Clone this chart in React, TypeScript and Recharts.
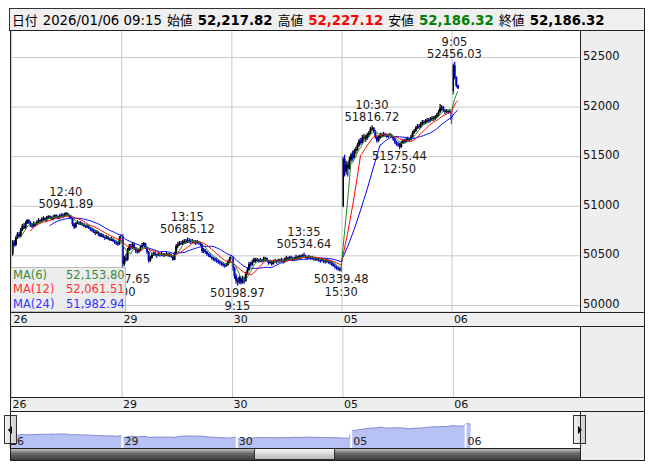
import React from 'react';
import {
  ComposedChart, AreaChart, Area, Bar, Line, XAxis, YAxis, CartesianGrid,
  ReferenceLine, ReferenceDot,
} from 'recharts';

// ---------------- data ----------------
const dayLabels = ['26', '29', '30', '05', '06'];
const dayOpens = [50520, 50700, 50480, 51000, 52160];

const d26Close = [50640,50610,50680,50720,50700,50760,50800,50780,50830,50860,
  50840,50810,50800,50830,50820,50840,50860,50850,50870,50880,
  50860,50880,50900,50890,50870,50890,50910,50900,50880,50900,
  50910,50900,50920,50930,50910,50900,50880,50820,50790,50830,
  50840,50820,50830,50810,50800,50790,50800,50780,50770,50760,
  50740,50730,50740,50720,50700,50710,50690,50680,50690,50670,
  50660,50670,50650,50640,50630,50620,50680,50700];
const d26High = [50660,50660,50700,50740,50740,50780,50820,50830,50850,50870,
  50870,50850,50830,50850,50840,50860,50880,50870,50890,50900,
  50890,50900,50910,50910,50900,50910,50920,50920,50910,50920,
  50930,50930,50935,50941.89,50935,50920,50910,50880,50830,50840,
  50860,50850,50850,50840,50830,50810,50820,50810,50790,50780,
  50770,50760,50760,50750,50730,50730,50720,50700,50710,50700,
  50680,50690,50680,50660,50650,50640,50700,50720];
const d26Low = [50500,50590,50600,50670,50680,50690,50750,50770,50770,50820,
  50820,50790,50780,50790,50800,50810,50830,50830,50840,50850,
  50850,50850,50870,50870,50860,50860,50880,50880,50870,50870,
  50890,50880,50890,50900,50900,50880,50870,50800,50770,50780,
  50820,50810,50810,50800,50790,50780,50780,50770,50750,50740,
  50730,50710,50720,50700,50690,50690,50680,50660,50670,50660,
  50650,50650,50640,50620,50610,50600,50610,50670];

const d29Close = [50420,50480,50460,50560,50600,50580,50620,50580,50560,50540,
  50560,50590,50610,50630,50580,50540,50450,50480,50510,50530,
  50510,50500,50520,50510,50520,50500,50510,50520,50500,50510,
  50490,50460,50520,50600,50610,50630,50620,50640,50650,50640,
  50660,50650,50640,50650,50640,50630,50640,50630,50620,50550,
  50560,50540,50520,50510,50490,50480,50470,50460,50450,50440,
  50430,50420,50410,50400,50410,50440,50470,50490];
const d29High = [50720,50500,50520,50580,50620,50620,50640,50630,50590,50570,
  50580,50600,50630,50640,50630,50590,50550,50500,50530,50540,
  50540,50520,50540,50530,50540,50530,50530,50540,50530,50530,
  50520,50500,50540,50620,50640,50650,50650,50660,50670,50670,
  50685.12,50680,50670,50670,50660,50660,50660,50650,50640,50620,
  50580,50570,50550,50530,50520,50500,50490,50480,50480,50460,
  50450,50440,50430,50420,50430,50460,50490,50510];
const d29Low = [50337.65,50400,50440,50450,50550,50560,50570,50560,50530,50520,
  50530,50550,50580,50600,50570,50520,50430,50440,50470,50500,
  50500,50480,50500,50490,50500,50490,50490,50500,50490,50490,
  50480,50450,50460,50510,50580,50600,50610,50610,50620,50620,
  50630,50630,50620,50630,50620,50610,50620,50610,50600,50530,
  50530,50520,50500,50490,50480,50460,50450,50440,50430,50420,
  50410,50400,50390,50380,50390,50400,50430,50460];

const d30Close = [50380,50300,50250,50240,50280,50230,50270,50250,50320,50360,
  50420,50410,50440,50470,50450,50460,50440,50460,50450,50470,
  50480,50450,50430,50440,50420,50440,50450,50440,50460,50450,
  50460,50440,50460,50480,50470,50490,50480,50460,50470,50490,
  50480,50500,50490,50510,50500,50490,50480,50490,50470,50480,
  50470,50460,50470,50460,50450,50460,50450,50440,50450,50440,
  50430,50420,50400,50390,50380,50370,50360,50370];
const d30High = [50500,50390,50320,50280,50300,50290,50300,50290,50340,50380,
  50440,50440,50460,50480,50480,50480,50470,50480,50470,50490,
  50490,50480,50460,50460,50450,50460,50470,50460,50470,50470,
  50480,50470,50480,50500,50490,50500,50500,50490,50490,50510,
  50500,50510,50510,50520,50534.64,50510,50500,50510,50500,50500,
  50490,50490,50480,50480,50470,50480,50470,50460,50470,50460,
  50450,50450,50430,50420,50400,50390,50380,50390];
const d30Low = [50350,50270,50220,50198.97,50220,50210,50220,50220,50240,50310,
  50350,50390,50400,50430,50430,50440,50430,50440,50430,50440,
  50450,50440,50410,50420,50400,50410,50430,50420,50430,50430,
  50440,50420,50430,50450,50450,50460,50460,50450,50450,50460,
  50460,50470,50470,50480,50490,50470,50460,50470,50460,50460,
  50450,50450,50450,50440,50430,50440,50430,50420,50430,50420,
  50410,50400,50390,50370,50360,50350,50345,50339.48];

const d05Close = [51480,51350,51420,51380,51470,51520,51490,51560,51580,51620,
  51660,51640,51690,51700,51680,51720,51740,51780,51790,51760,
  51700,51660,51690,51720,51710,51730,51720,51700,51710,51720,
  51710,51680,51650,51630,51620,51600,51640,51660,51650,51670,
  51680,51670,51700,51740,51760,51790,51810,51800,51830,51850,
  51840,51860,51870,51860,51880,51890,51880,51900,51920,51950,
  51990,52000,51970,51950,51960,51950,51960,51870];
const d05High = [51500,51520,51460,51450,51500,51540,51560,51580,51600,51640,
  51680,51690,51720,51730,51720,51740,51760,51800,51816.72,51800,
  51770,51710,51710,51740,51740,51750,51740,51730,51730,51740,
  51730,51710,51690,51660,51650,51640,51660,51680,51680,51690,
  51700,51690,51720,51760,51780,51810,51830,51830,51850,51870,
  51870,51880,51890,51890,51900,51910,51910,51920,51940,51970,
  52030,52020,52010,51980,51980,51970,51980,51960];
const d05Low = [50990,51300,51320,51300,51370,51450,51460,51480,51530,51560,
  51600,51620,51630,51660,51650,51670,51700,51730,51760,51740,
  51680,51640,51650,51680,51690,51700,51700,51690,51690,51700,
  51690,51660,51630,51610,51600,51575.44,51590,51630,51640,51650,
  51660,51650,51660,51690,51730,51750,51780,51780,51790,51820,
  51820,51830,51840,51840,51850,51860,51860,51870,51890,51910,
  51940,51960,51950,51930,51940,51930,51940,51830];

const d06Close = [52420, 52300, 52217.82, 52186.32];
const d06High = [52440, 52456.03, 52310, 52227.12];
const d06Low = [52130, 52280, 52200, 52186.32];

const priceTicks = [50000, 50500, 51000, 51500, 52000, 52500];

const notes = [
  { day: 0, bar: 33, price: 50941.89, time: '12:40', kind: 'high' },
  { day: 1, bar: 0, price: 50337.65, time: '9:00', kind: 'low' },
  { day: 1, bar: 40, price: 50685.12, time: '13:15', kind: 'high' },
  { day: 2, bar: 3, price: 50198.97, time: '9:15', kind: 'low' },
  { day: 2, bar: 44, price: 50534.64, time: '13:35', kind: 'high' },
  { day: 2, bar: 67, price: 50339.48, time: '15:30', kind: 'low' },
  { day: 3, bar: 18, price: 51816.72, time: '10:30', kind: 'high' },
  { day: 3, bar: 35, price: 51575.44, time: '12:50', kind: 'low' },
  { day: 4, bar: 1, price: 52456.03, time: '9:05', kind: 'high' },
];

const legendItems = [
  { name: 'MA(6)', value: '52,153.80', color: '#3a8a3a' },
  { name: 'MA(12)', value: '52,061.51', color: '#ff3030' },
  { name: 'MA(24)', value: '51,982.94', color: '#3535ff' },
];

// ---------------- build rows ----------------
const days = [
  { open: dayOpens[0], close: d26Close, high: d26High, low: d26Low },
  { open: dayOpens[1], close: d29Close, high: d29High, low: d29Low },
  { open: dayOpens[2], close: d30Close, high: d30High, low: d30Low },
  { open: dayOpens[3], close: d05Close, high: d05High, low: d05Low },
  { open: dayOpens[4], close: d06Close, high: d06High, low: d06Low },
];
const BARS_PER_DAY = 68;
const LEAD = 1;
const SLOTS = 352;
const NAV_LEAD = 0;
const NAV_SLOTS = 341;

type Bar = { open: number; high: number; low: number; close: number };
const bars: Bar[] = [];
days.forEach((d) => d.close.forEach((c, i) => {
  bars.push({ open: i === 0 ? d.open : d.close[i - 1], high: d.high[i], low: d.low[i], close: c });
}));
const closes = bars.map((b) => b.close);
const ma = (n: number, k: number) => (k < n - 1 ? undefined : closes.slice(k - n + 1, k + 1).reduce((a, b) => a + b, 0) / n);

const rows: any[] = [];
for (let s = 0; s < SLOTS; s++) {
  const k = s - LEAD;
  const b = k >= 0 ? bars[k] : undefined;
  if (b) rows.push({ idx: s, ...b, range: [b.low, b.high], ma6: ma(6, k), ma12: ma(12, k), ma24: ma(24, k) });
  else rows.push({ idx: s });
}
const navRows: any[] = [];
for (let s = 0; s < NAV_SLOTS; s++) {
  const k = s - NAV_LEAD;
  const b = k >= 0 ? bars[k] : undefined;
  navRows.push(b ? { idx: s, close: b.close } : { idx: s });
}
const dayStarts = dayLabels.map((_, d) => LEAD + d * BARS_PER_DAY);
const navDayStarts = dayLabels.map((_, d) => NAV_LEAD + d * BARS_PER_DAY);
const labelOf: Record<number, string> = {};
dayStarts.forEach((s, d) => { labelOf[s] = dayLabels[d]; });

// ---------------- components ----------------
const FONT = "'DejaVu Sans', 'Noto Sans CJK JP', sans-serif";

const Candle = (p: any) => {
  const { x, y, width, height, payload } = p;
  if (!payload || payload.open == null || y == null || isNaN(y)) return <g />;
  const { open, close, high, low } = payload;
  const cx = x + width / 2;
  const k = high === low ? 0 : height / (high - low);
  const yO = y + (high - open) * k;
  const yC = y + (high - close) * k;
  const up = close >= open;
  const color = up ? '#000000' : '#0000c0';
  const top = Math.min(yO, yC);
  const bh = Math.max(Math.abs(yC - yO), 1);
  return (
    <g>
      <line x1={cx} x2={cx} y1={y} y2={y + height} stroke={color} strokeWidth={1.2} />
      <rect x={cx - 1} y={top} width={2} height={bh} fill={color} />
    </g>
  );
};

const DateTick = (p: any) => {
  const { x, y, payload } = p;
  return (
    <text x={x + 1} y={y + 7.5} fontSize={11} fontFamily={FONT} fill="#111" dominantBaseline="central">
      {labelOf[payload.value]}
    </text>
  );
};

const PriceTick = (p: any) => {
  const { x, y, payload } = p;
  return (
    <text x={x + 3} y={y - 1.5} fontSize={11.5} fontFamily={FONT} fill="#111" dominantBaseline="central">
      {payload.value}
    </text>
  );
};

const NoteMark = (p: any) => {
  const { cx, cy, note } = p;
  const high = note.kind === 'high';
  const priceTxt = note.price.toFixed(2);
  const a = high ? note.time : priceTxt;
  const b = high ? priceTxt : note.time;
  const ya = high ? cy - 20 : cy + 7;
  const yb = high ? cy - 8 : cy + 20;
  const st = { fontSize: 11.5, fontFamily: FONT, fill: '#1a1a1a' } as any;
  return (
    <g>
      <text x={cx} y={ya} textAnchor="middle" dominantBaseline="central" {...st}>{a}</text>
      <text x={cx} y={yb} textAnchor="middle" dominantBaseline="central" {...st}>{b}</text>
    </g>
  );
};

const NavLabel = (p: any) => {
  const vb = p.viewBox || {};
  return (
    <text x={vb.x + 2} y={vb.y + vb.height - 7} fontSize={11} fontFamily={FONT} fill="#222" dominantBaseline="central">
      {p.text}
    </text>
  );
};

const Rect = ({ l, t, w, h, bg, z = 0, extra = {} }: any) => (
  <div style={{ position: 'absolute', left: l, top: t, width: w, height: h, background: bg, zIndex: z, ...extra }} />
);

const R = 644; // right edge

export default function App() {
  const hLines = [
    [9, R, 30], [10, R, 312], [10, R, 326], [10, R, 397], [10, R, 411], [10, 580, 448], [10, R, 460],
  ];
  const vLines = [
    [10, 30, 461], [580, 30, 312], [580, 326, 397], [580, 411, 461], [R, 8, 461],
  ];
  const val = { fontSize: 13.3 } as any;
  const lab = { fontSize: 12.8 } as any;
  return (
    <div style={{ position: 'absolute', left: 0, top: 0, width: 653, height: 470, background: '#fff', fontFamily: FONT, overflow: 'hidden' }}>
      {/* backgrounds */}
      <Rect l={10} t={30} w={570} h={282} bg="#fff" />
      <Rect l={580} t={30} w={R - 580} h={282} bg="#eeeeee" />
      <Rect l={10} t={312} w={R - 10} h={14} bg="#eeeeee" />
      <Rect l={580} t={326} w={R - 580} h={71} bg="#eeeeee" />
      <Rect l={10} t={397} w={R - 10} h={14} bg="#eeeeee" />
      <Rect l={580} t={411} w={R - 580} h={50} bg="#eeeeee" />

      {/* header */}
      <div style={{ position: 'absolute', left: 9, top: 8, width: R - 9 + 1, height: 23, boxSizing: 'border-box', border: '1px solid #333', background: '#efefef', paddingLeft: 2, lineHeight: '21px', whiteSpace: 'nowrap', color: '#000', zIndex: 3 }}>
        <span style={lab}>日付</span> <span style={val}>2026/01/06 09:15</span>{' '}
        <span style={lab}>始値</span> <b style={val}>52,217.82</b>{' '}
        <span style={lab}>高値</span> <b style={{ ...val, color: '#ff0000' }}>52,227.12</b>{' '}
        <span style={lab}>安値</span> <b style={{ ...val, color: '#008000' }}>52,186.32</b>{' '}
        <span style={lab}>終値</span> <b style={val}>52,186.32</b>
      </div>

      {/* main chart */}
      <div style={{ position: 'absolute', left: 10, top: 30, zIndex: 1 }}>
        <ComposedChart width={R - 10} height={296} data={rows} margin={{ top: 0, right: 0, bottom: 0, left: 0 }} barCategoryGap={0} barGap={0}>
          <CartesianGrid horizontal vertical={false} stroke="#c8c8c8" />
          <XAxis dataKey="idx" type="category" ticks={dayStarts} interval={0} height={14} tickLine={false} axisLine={false} tickSize={0} tickMargin={0} tick={<DateTick />} />
          <YAxis orientation="right" width={R - 580} domain={[49934, 52777]} ticks={priceTicks} interval={0} allowDataOverflow tickLine={false} axisLine={false} tickSize={0} tickMargin={0} tick={<PriceTick />} />
          {dayStarts.map((s) => (
            <ReferenceLine key={'v' + s} x={s} position="start" stroke="#c8c8c8" />
          ))}
          <Bar dataKey="range" isAnimationActive={false} shape={(p: any) => <Candle {...p} />} />
          <Line dataKey="ma24" type="linear" stroke="#0000ff" strokeWidth={1} dot={false} activeDot={false} isAnimationActive={false} />
          <Line dataKey="ma12" type="linear" stroke="#ff0000" strokeWidth={1} dot={false} activeDot={false} isAnimationActive={false} />
          <Line dataKey="ma6" type="linear" stroke="#1f8a1f" strokeWidth={1} dot={false} activeDot={false} isAnimationActive={false} />
          {notes.map((n, i) => (
            <ReferenceDot key={'n' + i} x={LEAD + n.day * BARS_PER_DAY + n.bar} y={n.price} r={0} ifOverflow="visible"
              shape={(p: any) => <NoteMark {...p} note={n} />} />
          ))}
        </ComposedChart>
      </div>

      {/* second (empty) panel */}
      <div style={{ position: 'absolute', left: 10, top: 326, zIndex: 1 }}>
        <ComposedChart width={R - 10} height={85} data={rows} margin={{ top: 0, right: R - 580, bottom: 0, left: 0 }}>
          <XAxis dataKey="idx" type="category" ticks={dayStarts} interval={0} height={14} tickLine={false} axisLine={false} tickSize={0} tickMargin={0} tick={<DateTick />} />
          <YAxis hide domain={[49934, 52777]} />
          {dayStarts.map((s) => (
            <ReferenceLine key={'p' + s} x={s} position="start" stroke="#c8c8c8" />
          ))}
          <Line dataKey="close" stroke="transparent" dot={false} activeDot={false} isAnimationActive={false} />
        </ComposedChart>
      </div>

      {/* navigator */}
      <div style={{ position: 'absolute', left: 8, top: 411, zIndex: 1 }}>
        <AreaChart width={572} height={37} data={navRows} margin={{ top: 0, right: 0, bottom: 0, left: 0 }}>
          <XAxis dataKey="idx" type="category" hide />
          <YAxis hide domain={[49100, 53900]} allowDataOverflow />
          <Area dataKey="close" type="linear" stroke="#8088cc" strokeWidth={1} fill="#b7c1f3" fillOpacity={1} baseValue={49100} dot={false} activeDot={false} isAnimationActive={false} />
          {navDayStarts.map((s, d) => (
            <ReferenceLine key={'nv' + s} x={s} position="start" stroke="#ffffff" strokeWidth={2}
              label={(p: any) => <NavLabel {...p} text={dayLabels[d]} />} />
          ))}
        </AreaChart>
      </div>

      {/* selection edges */}
      <Rect l={10} t={411} w={1} h={37} bg="#39a6e0" z={2} />
      <Rect l={580} t={411} w={1} h={37} bg="#39a6e0" z={2} />

      {/* scrollbar */}
      <div style={{ position: 'absolute', left: 10, top: 448, width: 570, height: 12, background: 'linear-gradient(#d8d8d8, #6a6a6a 45%, #3c3c3c)', zIndex: 2 }} />
      <div style={{ position: 'absolute', left: 254, top: 448, width: 81, height: 12, boxSizing: 'border-box', border: '1px solid #333', background: 'linear-gradient(#f8f8f8, #d0d0d0 60%, #b8b8b8)', zIndex: 3 }} />

      {/* buttons */}
      <div style={{ position: 'absolute', left: 4, top: 415, width: 13, height: 29, boxSizing: 'border-box', border: '1px solid #333', background: 'linear-gradient(90deg, #f2f2f2, #cfcfcf)', zIndex: 4 }}>
        <div style={{ position: 'absolute', left: 3, top: 10, width: 0, height: 0, borderTop: '4px solid transparent', borderBottom: '4px solid transparent', borderRight: '4px solid #000' }} />
      </div>
      <div style={{ position: 'absolute', left: 573, top: 415, width: 13, height: 29, boxSizing: 'border-box', border: '1px solid #333', background: 'linear-gradient(90deg, #f2f2f2, #cfcfcf)', zIndex: 4 }}>
        <div style={{ position: 'absolute', left: 4, top: 10, width: 0, height: 0, borderTop: '4px solid transparent', borderBottom: '4px solid transparent', borderLeft: '4px solid #000' }} />
      </div>

      {/* legend */}
      <div style={{ position: 'absolute', left: 10, top: 267, width: 116, height: 45, boxSizing: 'border-box', background: 'rgba(236,236,236,0.92)', border: '1px solid #bdbdbd', zIndex: 2 }}>
        {legendItems.map((it, i) => (
          <div key={it.name} style={{ position: 'absolute', left: 2, top: 0 + i * 14.3, height: 14, lineHeight: '14px', fontSize: 11.5, color: it.color, whiteSpace: 'nowrap' }}>
            <span style={{ position: 'absolute', left: 0 }}>{it.name}</span>
            <span style={{ position: 'absolute', left: 53 }}>{it.value}</span>
          </div>
        ))}
      </div>

      {/* frame lines */}
      {hLines.map(([x1, x2, y], i) => (
        <Rect key={'h' + i} l={x1} t={y} w={x2 - x1 + 1} h={1} bg="#222" z={5} />
      ))}
      {vLines.map(([x, y1, y2], i) => (
        <Rect key={'vl' + i} l={x} t={y1} w={1} h={y2 - y1} bg="#222" z={5} />
      ))}
    </div>
  );
}
